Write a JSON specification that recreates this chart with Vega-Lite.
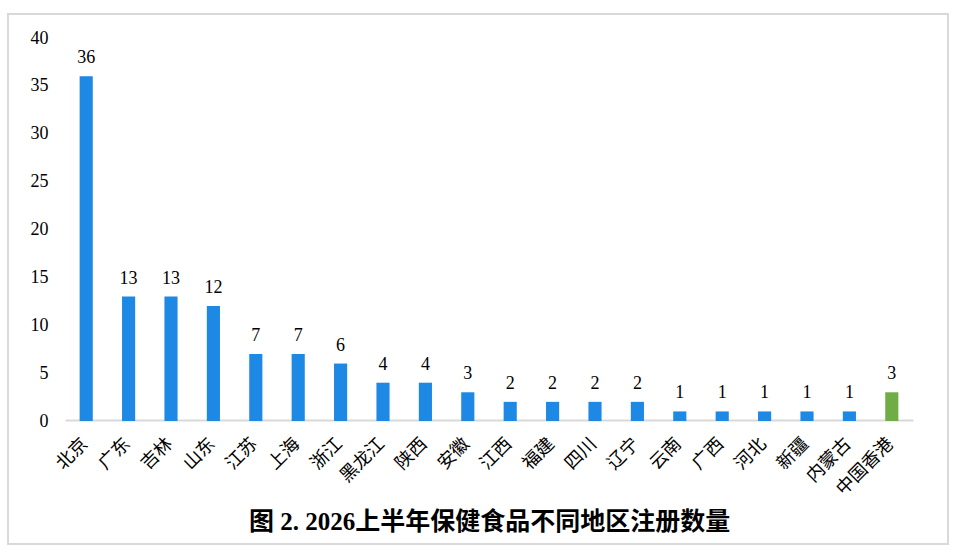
{
  "$schema": "https://vega.github.io/schema/vega-lite/v6.json",
  "width": 940,
  "height": 530,
  "autosize": {"type": "none"},
  "padding": {"left": 8, "top": 14, "right": 10, "bottom": 11},
  "background": "white",
  "config": {
    "view": {"stroke": "#d9d9d9", "strokeWidth": 2},
    "font": "Liberation Serif, Noto Sans CJK SC"
  },
  "data": {
    "values": [
      {"region": "北京", "count": 36},
      {"region": "广东", "count": 13},
      {"region": "吉林", "count": 13},
      {"region": "山东", "count": 12},
      {"region": "江苏", "count": 7},
      {"region": "上海", "count": 7},
      {"region": "浙江", "count": 6},
      {"region": "黑龙江", "count": 4},
      {"region": "陕西", "count": 4},
      {"region": "安徽", "count": 3},
      {"region": "江西", "count": 2},
      {"region": "福建", "count": 2},
      {"region": "四川", "count": 2},
      {"region": "辽宁", "count": 2},
      {"region": "云南", "count": 1},
      {"region": "广西", "count": 1},
      {"region": "河北", "count": 1},
      {"region": "新疆", "count": 1},
      {"region": "内蒙古", "count": 1},
      {"region": "中国香港", "count": 3}
    ]
  },
  "encoding": {
    "x": {
      "field": "region",
      "type": "nominal",
      "sort": null,
      "scale": {"range": [57, 905], "paddingInner": 0.69, "paddingOuter": 0.345},
      "axis": {
        "title": "图 2. 2026上半年保健食品不同地区注册数量",
        "titleFont": "Liberation Serif, Noto Sans CJK SC",
        "titleFontSize": 25,
        "titleFontWeight": "bold",
        "titleColor": "#000000",
        "titleBaseline": "middle",
        "titleY": 101,
        "offset": -124,
        "domainColor": "#d9d9d9",
        "domainWidth": 2,
        "ticks": false,
        "grid": false,
        "labelAngle": -45,
        "labelAlign": "right",
        "labelBaseline": "middle",
        "labelFontSize": 18,
        "labelColor": "#000000",
        "labelPadding": 21,
        "labelOffset": -1
      }
    },
    "y": {
      "field": "count",
      "type": "quantitative",
      "scale": {"domain": [0, 40], "range": [407, 24], "nice": false},
      "axis": {
        "title": null,
        "values": [0, 5, 10, 15, 20, 25, 30, 35, 40],
        "offset": -42,
        "domain": false,
        "ticks": false,
        "grid": false,
        "labelPadding": 2,
        "labelFontSize": 18,
        "labelColor": "#000000"
      }
    }
  },
  "layer": [
    {
      "mark": {"type": "bar"},
      "encoding": {
        "color": {
          "condition": {"test": "datum.region === '中国香港'", "value": "#70ad47"},
          "value": "#1e88e5"
        }
      }
    },
    {
      "mark": {"type": "text", "baseline": "alphabetic", "dy": -13, "fontSize": 18, "color": "#000000"},
      "encoding": {"text": {"field": "count", "type": "quantitative"}}
    }
  ]
}
